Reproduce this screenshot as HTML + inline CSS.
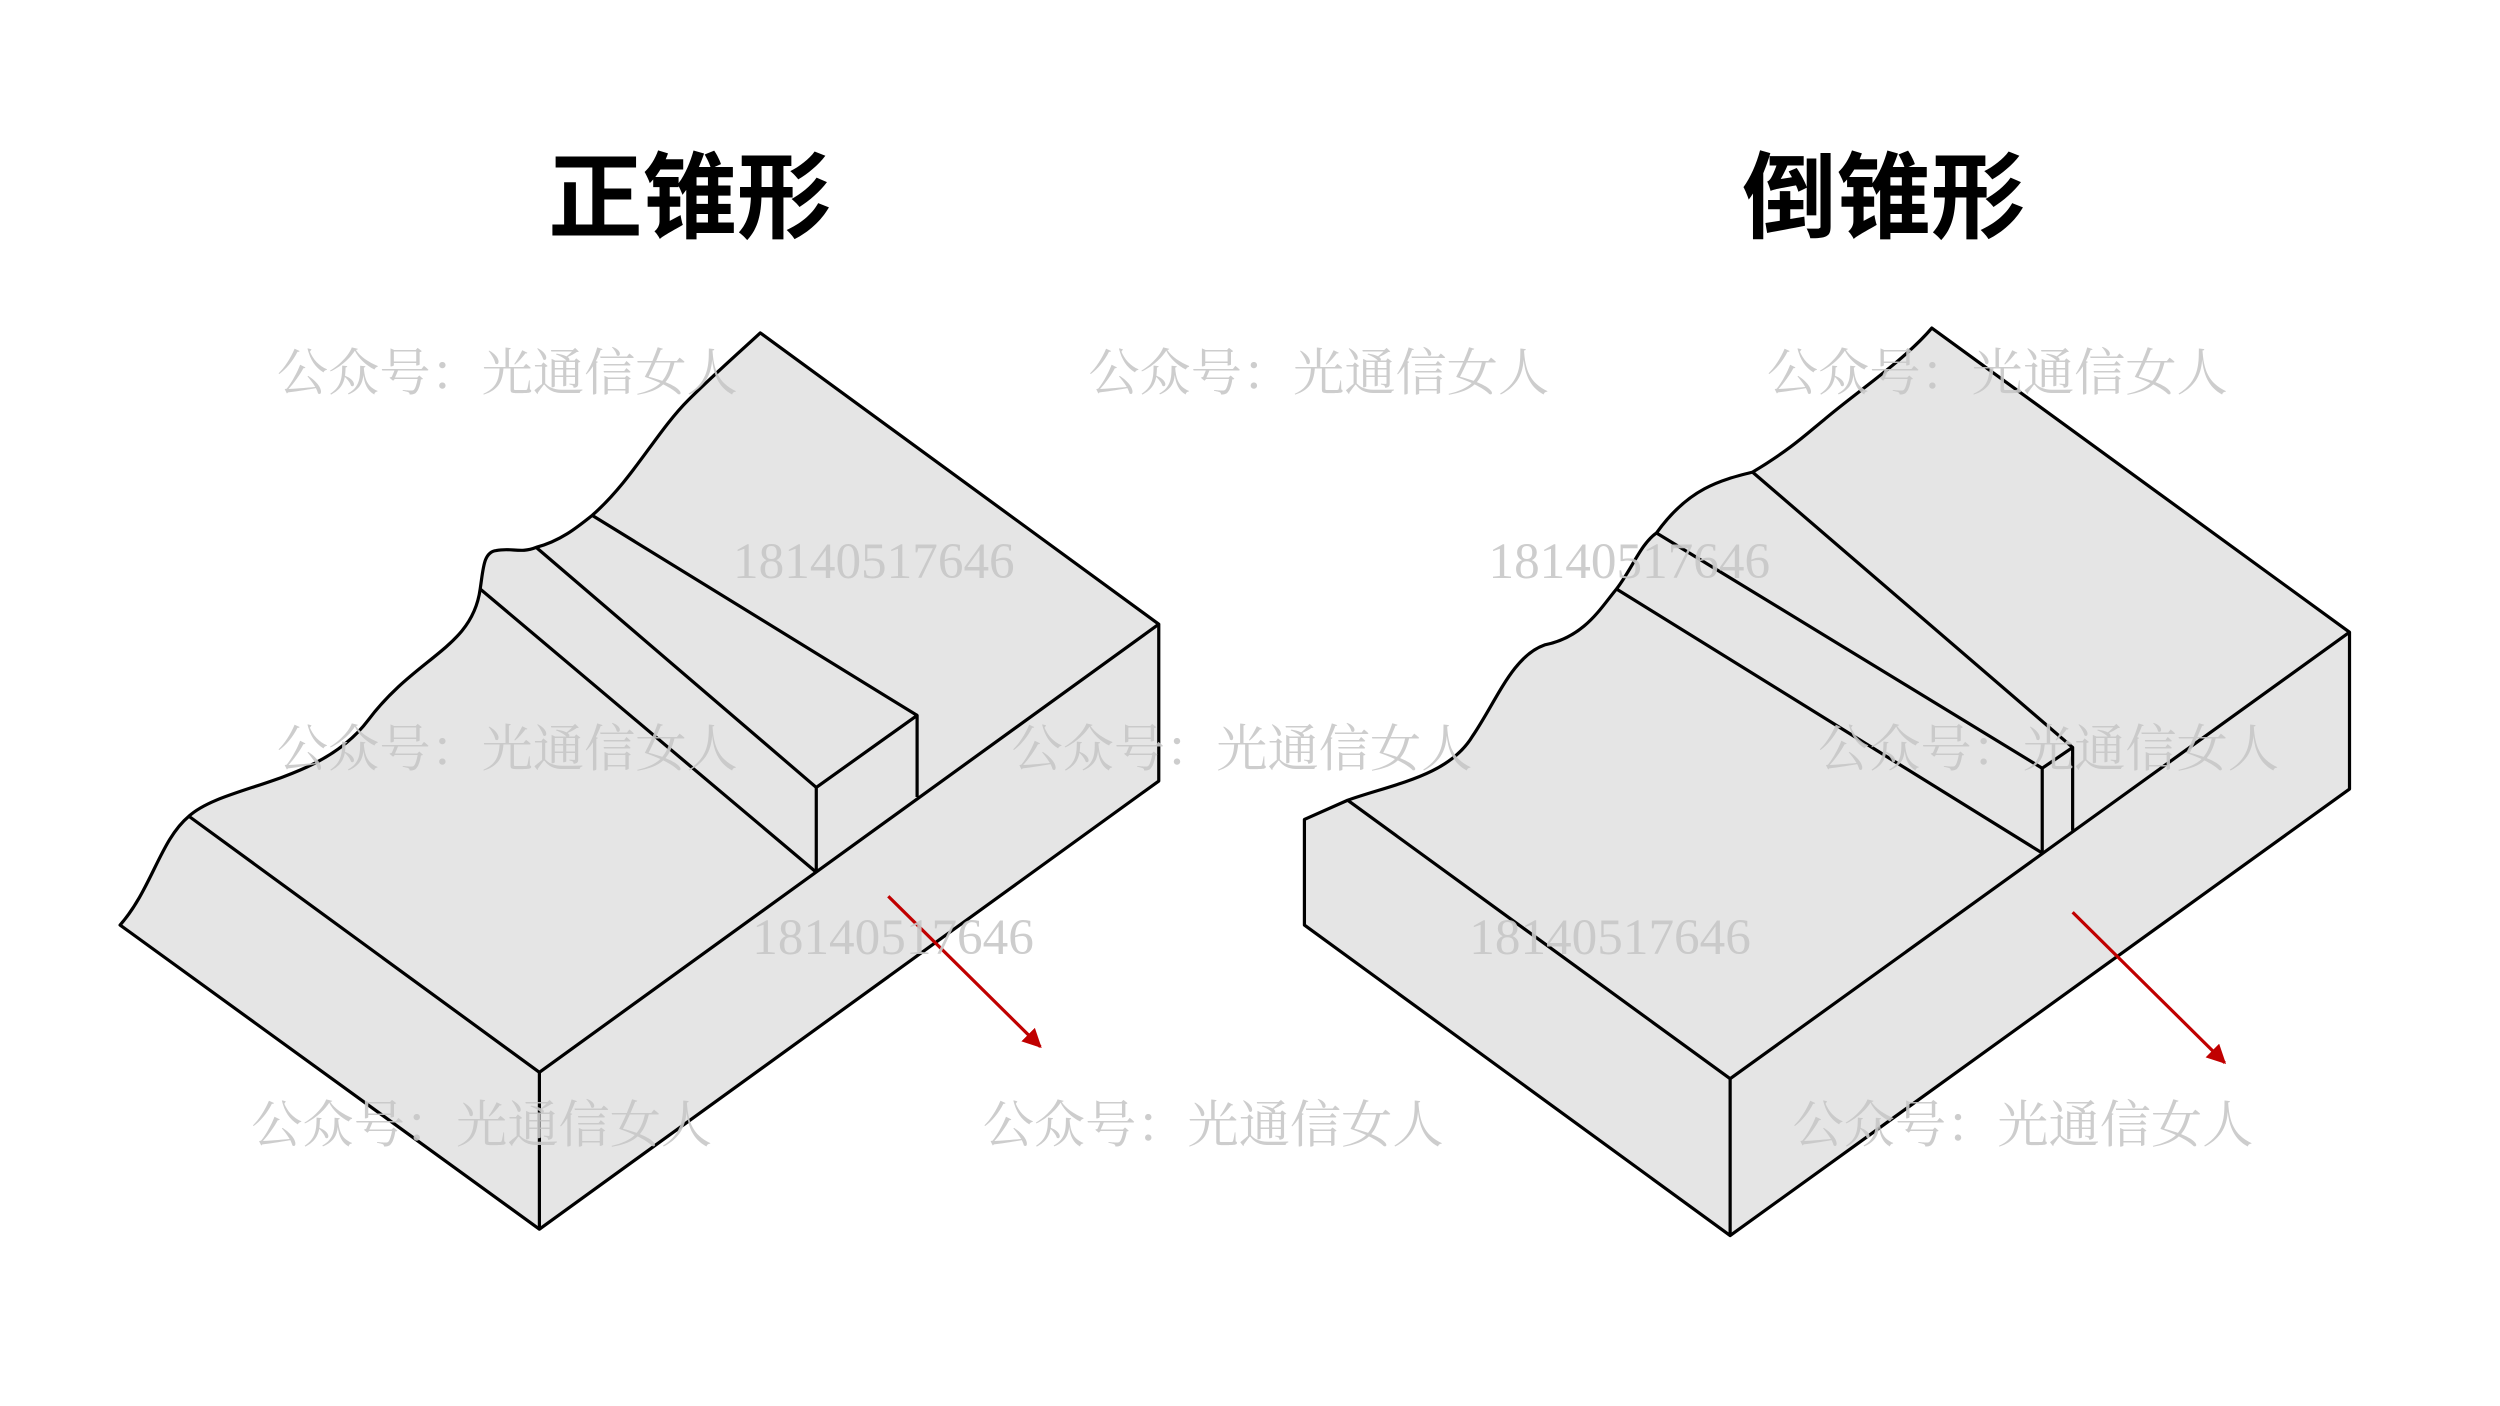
<!DOCTYPE html>
<html><head><meta charset="utf-8"><style>
html,body{margin:0;padding:0;background:#fff;width:2500px;height:1406px;overflow:hidden}
svg{display:block}
</style></head><body>
<svg width="2500" height="1406" viewBox="0 0 1562 878.5" xmlns="http://www.w3.org/2000/svg">
<defs><marker id="ah" viewBox="0 0 10 10" refX="9" refY="5" markerWidth="6" markerHeight="6" orient="auto"><path d="M0,0 L10,5 L0,10 z" fill="#c00000"/></marker></defs>
<g fill="#e5e5e5" stroke="#000" stroke-width="2" stroke-linejoin="round">
<!-- left shape -->
<path d="M75,578 C95,555 100,525 118,510 C140,490 200,490 230,450 C260,410 295,405 300,368 C302,355 302,345 310,344 C320,342 325,346 335,342 C350,338 360,330 370,322 C395,300 410,270 430,250 C445,235 462,220 475,208 L724,390 L724,488 L337,768 Z"/>
<path d="M118,510 L337,670 L724,390" fill="none"/>
<path d="M510,545 L510,492 L573,447 L573,498" fill="none"/>
<path d="M337,670 L337,768" fill="none"/>
<path d="M300,368 L510,545 M335,342 L510,492 M370,322 L573,447" fill="none"/>
<!-- right shape -->
<path d="M815,512 L842,500 C870,490 905,485 920,460 C935,438 945,410 965,403 C990,398 1000,380 1010,368 C1020,355 1025,340 1035,333 C1055,305 1075,300 1095,295 C1120,280 1130,270 1140,262 C1160,245 1190,225 1207,205 L1468,395 L1468,493 L1081,772 L815,578 Z"/>
<path d="M842,500 L1081,674 L1468,395" fill="none"/>
<path d="M1276,533 L1276,480 L1295,467 L1295,519" fill="none"/>
<path d="M1081,674 L1081,772" fill="none"/>
<path d="M1010,368 L1276,533 M1035,333 L1276,480 M1095,295 L1295,467" fill="none"/>
</g>
<g stroke="#c00000" stroke-width="2" fill="none">
<line x1="555" y1="560" x2="650" y2="654" marker-end="url(#ah)"/>
<line x1="1295" y1="570" x2="1390" y2="664" marker-end="url(#ah)"/>
</g>
<g font-family="'Liberation Sans','Noto Sans CJK SC',sans-serif" font-weight="bold" font-size="59" text-anchor="middle" fill="#000">
<text x="431" y="144">正锥形</text>
<text x="1177" y="144">倒锥形</text>
</g>
<g font-family="'Liberation Serif','Noto Serif CJK SC',serif" font-size="32" fill="#c8c8c8" opacity="0.9">
<text x="173" y="244">公众号：光通信女人</text>
<text x="680" y="244">公众号：光通信女人</text>
<text x="1104" y="244">公众号：光通信女人</text>
<text x="458" y="361">18140517646</text>
<text x="930" y="361">18140517646</text>
<text x="173" y="479">公众号：光通信女人</text>
<text x="632" y="479">公众号：光通信女人</text>
<text x="1136" y="479">公众号：光通信女人</text>
<text x="470" y="596">18140517646</text>
<text x="918" y="596">18140517646</text>
<text x="157" y="714">公众号：光通信女人</text>
<text x="614" y="714">公众号：光通信女人</text>
<text x="1120" y="714">公众号：光通信女人</text>
</g>
</svg>
</body></html>
